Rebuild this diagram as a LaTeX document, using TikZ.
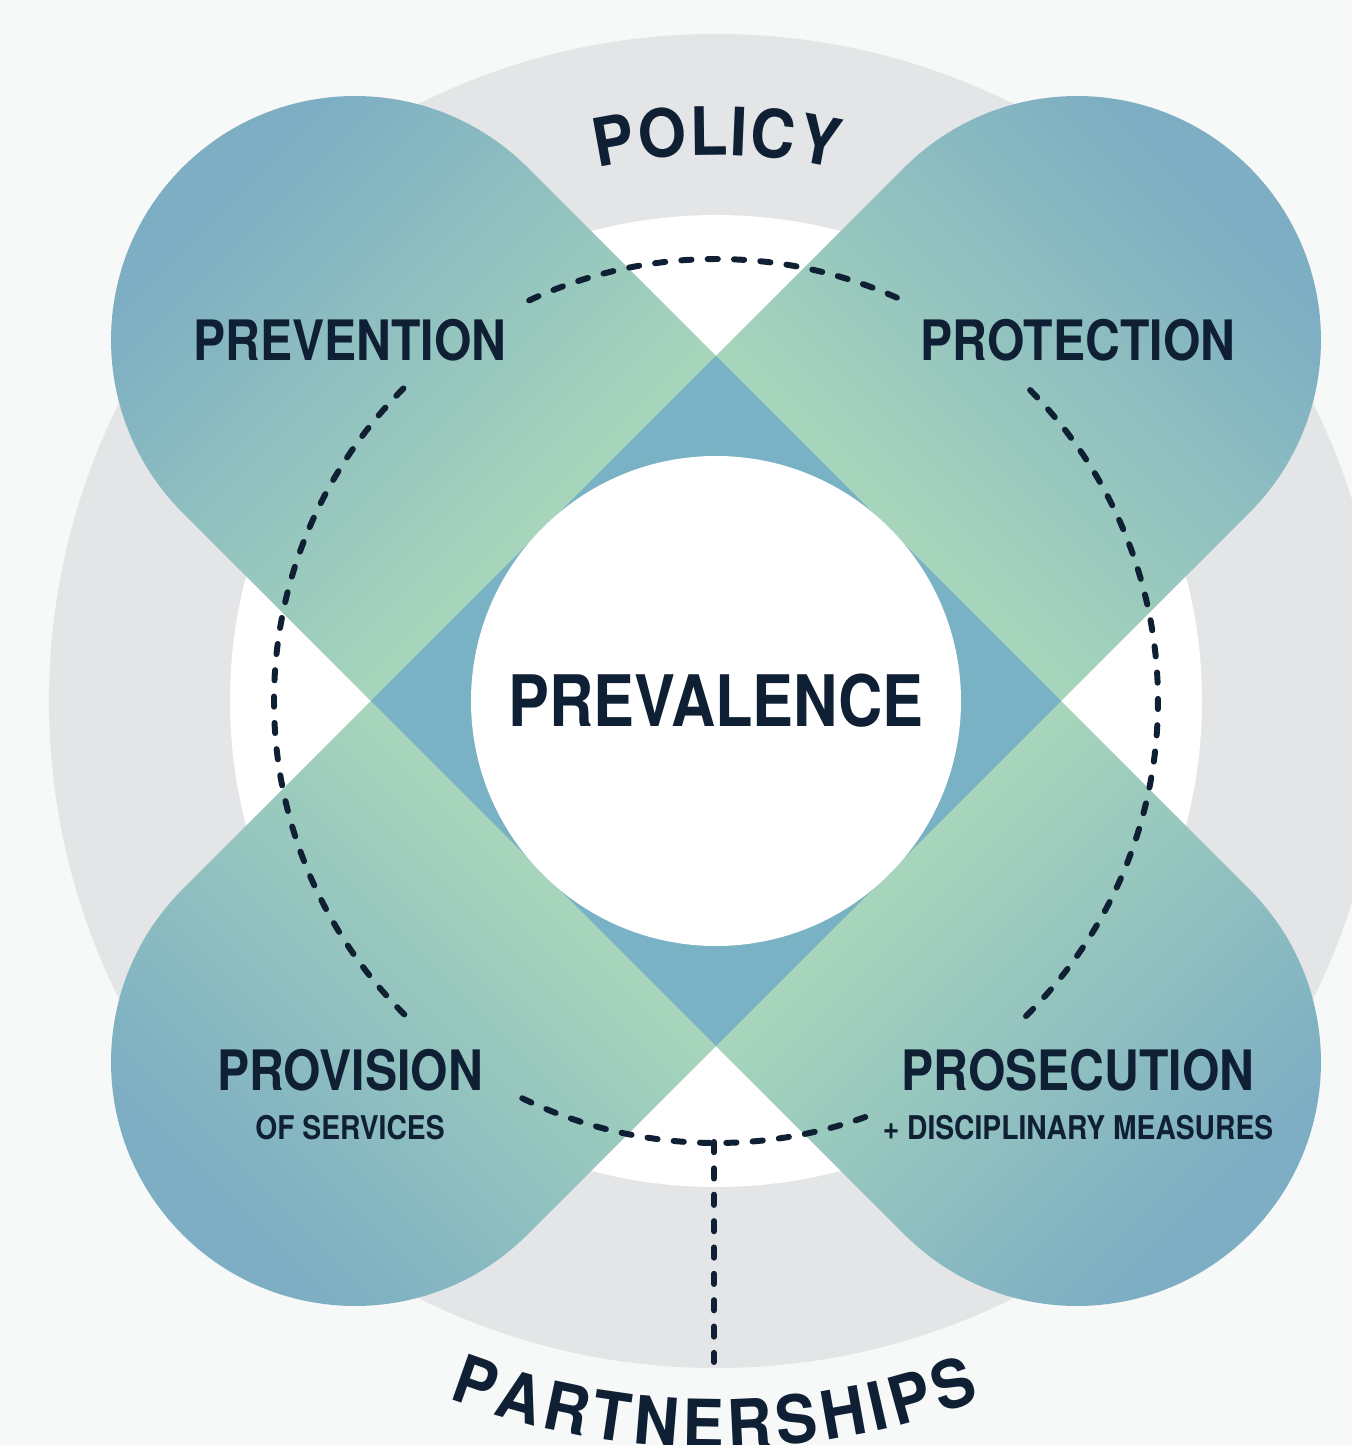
\documentclass[tikz,border=0pt]{standalone}
\usepackage{fontspec}
\usetikzlibrary{decorations.text}
\newfontfamily\dinfont{TeX Gyre Heros}[FakeStretch=0.864]
\newfontfamily\arcdinfont{TeX Gyre Heros}[FakeStretch=0.93]

\definecolor{pagebg}{HTML}{F7F9F9}
\definecolor{ringgray}{HTML}{E4E5E7}
\definecolor{bandblue}{HTML}{7DAEC3}
\definecolor{bandgreen}{HTML}{A6D5BB}
\definecolor{crossblue}{HTML}{7AB2C5}
\definecolor{navy}{HTML}{102034}

\pgfdeclarehorizontalshading{bandshade}{100bp}{color(0bp)=(bandblue); color(22bp)=(bandblue); color(40bp)=(bandgreen); color(60bp)=(bandgreen); color(78bp)=(bandblue); color(100bp)=(bandblue)}

\newcommand{\arcfont}{\arcdinfont\bfseries\fontsize{19}{19}\selectfont\color{navy}}

\begin{document}
\begin{tikzpicture}[
    lbl/.style={text=navy, font=\dinfont\bfseries\fontsize{15.85}{16}\selectfont},
    sublbl/.style={text=navy, font=\dinfont\bfseries\fontsize{9.3}{10}\selectfont},
    dashline/.style={navy, line width=1.7pt, line cap=round, dash pattern=on 2.9pt off 4.6pt},
    band/.style={shading=bandshade}]
    \useasboundingbox (0, 0) rectangle (13.52, 14.45);
    \fill [pagebg] (0, 0) rectangle (13.52, 14.45);

    \coordinate (c) at (7.16, 7.44);

    \fill [ringgray] (c) circle (6.67);
    \fill [white] (c) circle (4.86);

    \shade [band, shading angle=-45, shift={(c)}, rotate=-45]
      (-5.105, 2.44) -- (5.105, 2.44) arc [start angle=90, end angle=-90, radius=2.44]
      -- (-5.105, -2.44) arc [start angle=270, end angle=90, radius=2.44] -- cycle;
    \shade [band, shading angle=45, shift={(c)}, rotate=45]
      (-5.105, 2.44) -- (5.105, 2.44) arc [start angle=90, end angle=-90, radius=2.44]
      -- (-5.105, -2.44) arc [start angle=270, end angle=90, radius=2.44] -- cycle;
    \fill [crossblue, shift={(c)}] (0, 3.45) -- (3.45, 0) -- (0, -3.45) -- (-3.45, 0) -- cycle;

    \node [circle, fill=white, minimum size=4.9cm, lbl, font=\dinfont\bfseries\fontsize{20.2}{21}\selectfont] (prevalence) at (c) {PREVALENCE};

    \draw [dashline] (c) ++(115:4.42) arc [start angle=115, end angle=65, radius=4.42];
    \draw [dashline] (c) ++(135:4.42) arc [start angle=135, end angle=226, radius=4.42];
    \draw [dashline] (c) ++(44.7:4.42) arc [start angle=44.7, end angle=-46.2, radius=4.42];
    \draw [dashline] (c) ++(244:4.42) arc [start angle=244, end angle=290, radius=4.42];

    \coordinate (linetop) at (7.14, 3.03);
    \coordinate (linebot) at (7.14, 0.83);
    \draw [dashline] (linetop) -- (linebot);

    \node [lbl] (prevention) at (3.50, 11.05) {PREVENTION};
    \node [lbl] (protection) at (10.78, 11.05) {PROTECTION};
    \node [lbl] (provision) at (3.50, 3.75) {PROVISION};
    \node [sublbl] (services) at (3.50, 3.17) {OF SERVICES};
    \node [lbl] (prosecution) at (10.78, 3.75) {PROSECUTION};
    \node [sublbl] (measures) at (10.78, 3.17) {+ DISCIPLINARY MEASURES};

    \path [decorate, decoration={text along path, text align={fit to path}, text={|\arcfont|POLICY}}]
      (c) ++(102.5:5.46) arc [start angle=102.5, end angle=77.3, radius=5.46];
    \path [decorate, decoration={text along path, text align={fit to path}, text={|\arcfont|PARTNERSHIPS}}]
      (c) ++(249:7.47) arc [start angle=249, end angle=290.7, radius=7.47];
  \end{tikzpicture}
\end{document}
